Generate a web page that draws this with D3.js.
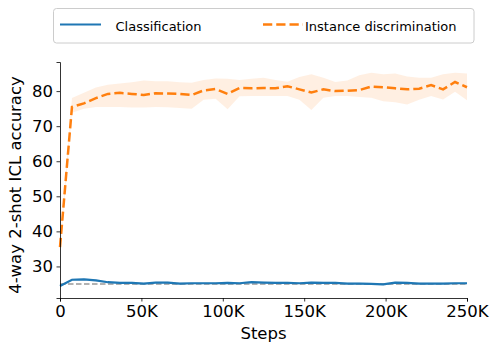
<!DOCTYPE html>
<html>
<head>
<meta charset="utf-8">
<script src="https://cdn.jsdelivr.net/npm/d3@7"></script>
<style>
  body { margin: 0; background: #fff; }
  text { font-family: "DejaVu Sans", sans-serif; fill: #000; }
</style>
</head>
<body>
<script>
// steps in thousands, one log point roughly every 7.35K
var steps = d3.range(35).map(function (i) { return i * 250 / 34; });

var instMean = [35.5, 75.5, 76.5, 78.0, 79.2, 79.5, 79.2, 78.9, 79.4, 79.3, 79.2, 78.9,
  80.2, 80.6, 79.2, 80.9, 80.8, 80.9, 80.8, 81.4, 80.5, 79.6, 80.5, 80.0, 80.1, 80.3,
  81.3, 81.1, 80.8, 80.5, 80.7, 81.7, 80.5, 82.6, 81.1];
var instHigh = [37.0, 78.0, 79.5, 81.0, 81.8, 82.2, 82.5, 83.0, 82.8, 82.8, 82.5, 82.4,
  83.2, 83.6, 83.5, 83.2, 83.5, 83.8, 83.2, 82.7, 84.0, 84.8, 83.8, 82.6, 83.0, 84.5,
  85.2, 84.8, 85.0, 84.2, 83.8, 83.8, 84.8, 85.2, 85.0];
var instLow = [34.0, 73.8, 75.0, 75.5, 75.5, 75.5, 75.3, 75.3, 75.5, 75.4, 75.2, 75.0,
  77.5, 77.8, 74.8, 78.5, 78.6, 78.6, 78.6, 78.6, 77.5, 74.6, 78.1, 78.6, 78.6, 78.3,
  78.1, 77.1, 76.8, 76.2, 77.5, 78.6, 77.6, 79.8, 77.4];

var clsMean = [24.4, 26.2, 26.3, 26.0, 25.5, 25.3, 25.3, 25.1, 25.4, 25.4, 25.1, 25.2,
  25.2, 25.2, 25.3, 25.2, 25.5, 25.4, 25.3, 25.3, 25.2, 25.4, 25.3, 25.3, 25.1, 25.1,
  25.0, 24.9, 25.4, 25.3, 25.1, 25.1, 25.1, 25.2, 25.2];
var clsSpread = 0.3;

var chance = 25;
var xTicks = [0, 50, 100, 150, 200, 250];
var yTicks = [30, 40, 50, 60, 70, 80];
var seriesNames = ["Classification", "Instance discrimination"];

var width = 498, height = 354;
var svg = d3.select("body").append("svg")
  .attr("width", width)
  .attr("height", height);

var x = d3.scaleLinear().domain([0, 250]).range([60, 467]);
var y = d3.scaleLinear().domain([21, 88.3]).range([298, 62]);

var blue = "#1f77b4", orange = "#ff7f0e";

// bands
var band = d3.area()
  .x(function (d) { return x(d.s); })
  .y0(function (d) { return y(d.lo); })
  .y1(function (d) { return y(d.hi); });

var instData = steps.map(function (s, i) {
  return { s: s, m: instMean[i], lo: instLow[i], hi: instHigh[i] };
});
var clsData = steps.map(function (s, i) {
  return { s: s, m: clsMean[i], lo: clsMean[i] - clsSpread, hi: clsMean[i] + clsSpread };
});

svg.append("path").datum(clsData)
  .attr("d", band).attr("fill", blue).attr("fill-opacity", 0.15);
svg.append("path").datum(instData)
  .attr("d", band).attr("fill", orange).attr("fill-opacity", 0.12);

// chance line
svg.append("line")
  .attr("x1", x(0)).attr("x2", x(250))
  .attr("y1", y(chance)).attr("y2", y(chance))
  .attr("stroke", "#999").attr("stroke-width", 1.5)
  .attr("stroke-dasharray", "5.5,2.5");

var line = d3.line()
  .x(function (d) { return x(d.s); })
  .y(function (d) { return y(d.m); });

svg.append("path").datum(clsData)
  .attr("d", line).attr("fill", "none")
  .attr("stroke", blue).attr("stroke-width", 2.2);

svg.append("path").datum(instData)
  .attr("d", line).attr("fill", "none")
  .attr("stroke", orange).attr("stroke-width", 2.5)
  .attr("stroke-dasharray", "9.25,4");

// axes
var xAxis = svg.append("g")
  .attr("transform", "translate(0,298)")
  .call(d3.axisBottom(x).tickValues(xTicks)
    .tickFormat(function (d) { return d === 0 ? "0" : d + "K"; })
    .tickSizeOuter(0).tickSize(3.5).tickPadding(3.5));
var yAxis = svg.append("g")
  .attr("transform", "translate(60,0)")
  .call(d3.axisLeft(y).tickValues(yTicks)
    .tickSizeOuter(0).tickSize(3.5).tickPadding(3.5));

[xAxis, yAxis].forEach(function (g) {
  g.selectAll("text").attr("font-size", 16.5).attr("font-family", "DejaVu Sans").attr("fill", "#000");
  g.selectAll("line").attr("stroke", "#000").attr("stroke-width", 0.8);
  g.select(".domain").attr("stroke", "#000").attr("stroke-width", 0.8);
});

svg.append("text")
  .attr("x", 263.5).attr("y", 339)
  .attr("text-anchor", "middle")
  .attr("font-size", 16.5)
  .text("Steps");

svg.append("text")
  .attr("transform", "translate(20.5,185) rotate(-90)")
  .attr("text-anchor", "middle")
  .attr("font-size", 16.5)
  .text("4-way 2-shot ICL accuracy");

// legend
var legend = svg.append("g");
legend.append("rect")
  .attr("x", 53.5).attr("y", 8.5)
  .attr("width", 420.5).attr("height", 34.5)
  .attr("rx", 3)
  .attr("fill", "#fff").attr("fill-opacity", 0.8)
  .attr("stroke", "#ccc").attr("stroke-width", 1);

legend.append("line")
  .attr("x1", 60).attr("x2", 101).attr("y1", 24.5).attr("y2", 24.5)
  .attr("stroke", blue).attr("stroke-width", 2.2);
legend.append("text")
  .attr("x", 115.5).attr("y", 30.5)
  .attr("font-size", 13)
  .text(seriesNames[0]);

legend.append("line")
  .attr("x1", 263).attr("x2", 303).attr("y1", 24.5).attr("y2", 24.5)
  .attr("stroke", orange).attr("stroke-width", 2.5)
  .attr("stroke-dasharray", "9.25,4");
legend.append("text")
  .attr("x", 305).attr("y", 30.5)
  .attr("font-size", 13)
  .text(seriesNames[1]);
</script>
</body>
</html>
